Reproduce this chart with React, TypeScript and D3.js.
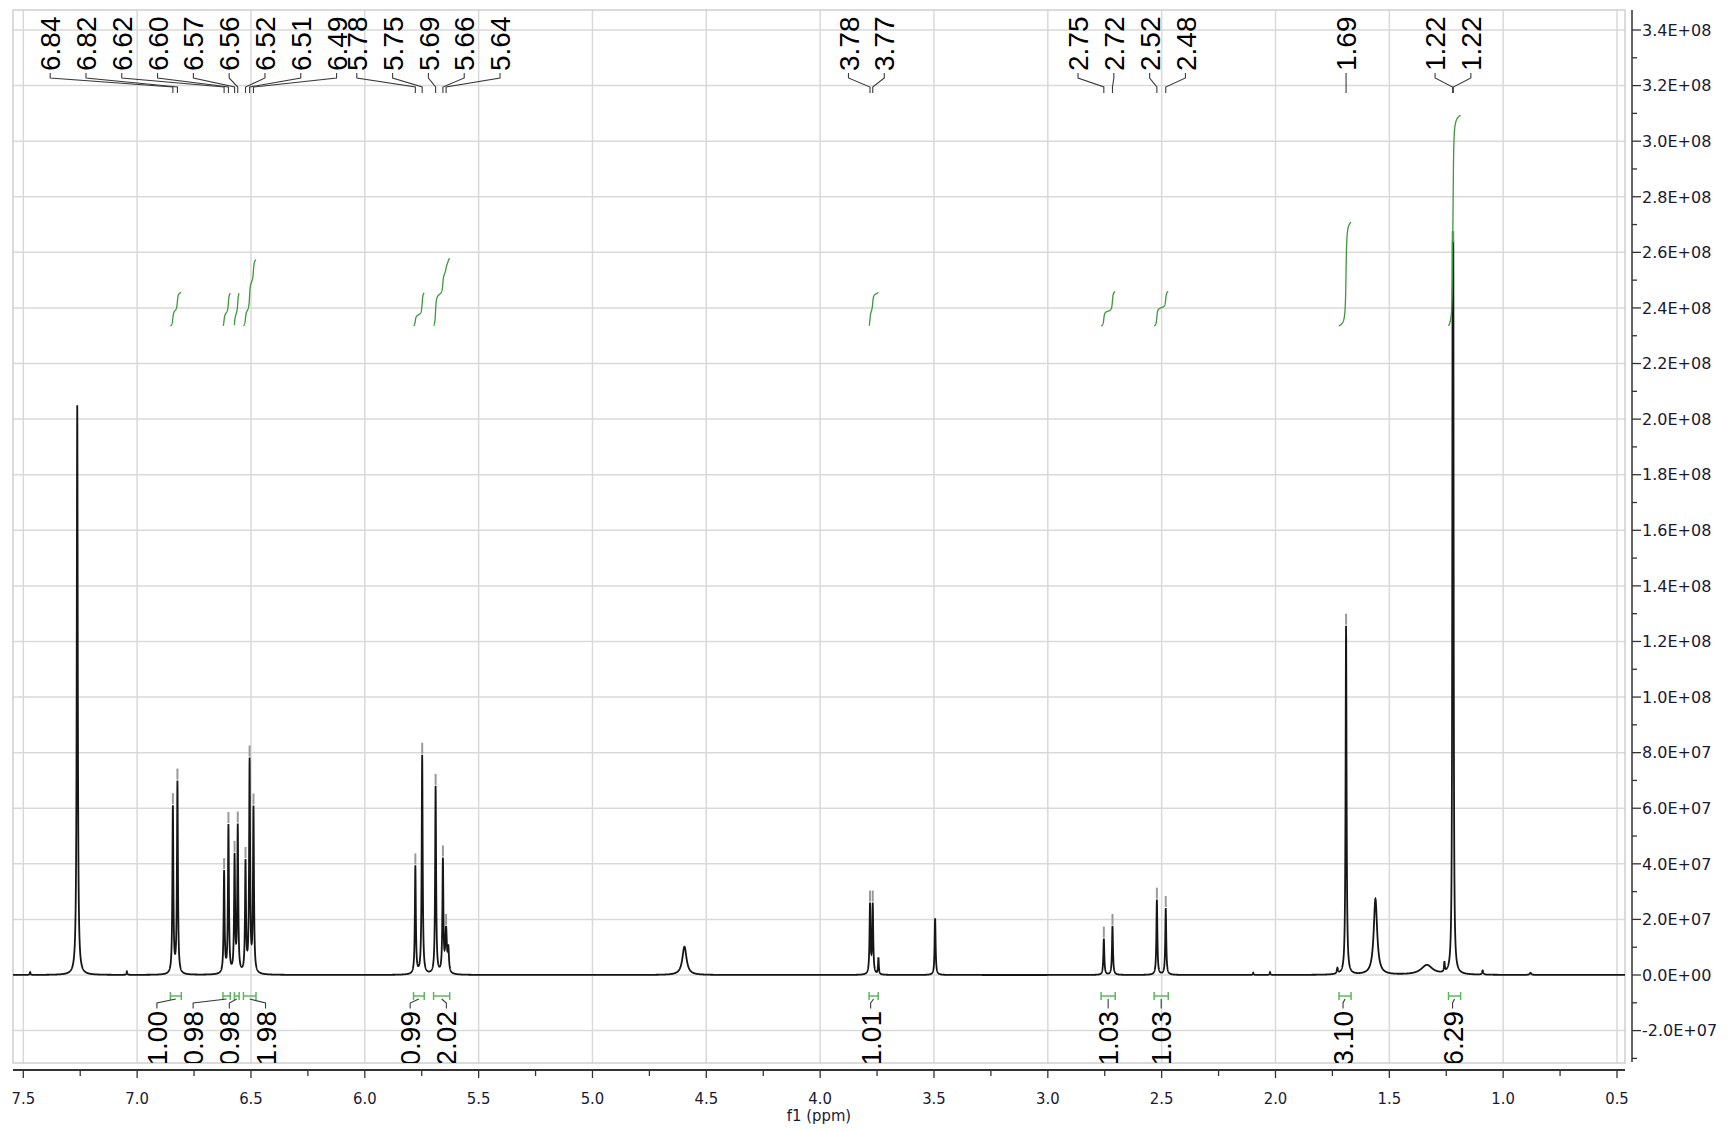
import React, { useMemo } from "react";
import * as d3 from "d3";

// ---- spectrum peaks (ppm, intensity, half width at half height in ppm)
const peakPpm = [
  7.47, 7.263, 7.045,
  6.843, 6.823, 6.618, 6.599, 6.572, 6.558, 6.524, 6.506, 6.489,
  5.778, 5.748, 5.689, 5.657, 5.643, 5.633,
  4.596, 3.781, 3.769, 3.744, 3.495,
  2.754, 2.716, 2.521, 2.482, 2.098, 2.024,
  1.728, 1.69, 1.561, 1.335, 1.258, 1.222, 1.219, 1.09, 0.88,
];
const peakHeight = [
  0.1e7, 20.5e7, 0.12e7,
  6.0e7, 6.9e7, 3.65e7, 5.3e7, 4.15e7, 5.25e7, 3.95e7, 7.6e7, 5.9e7,
  3.88e7, 7.88e7, 6.75e7, 4.05e7, 1.55e7, 0.8e7,
  1.02e7, 2.5e7, 2.5e7, 0.6e7, 2.04e7,
  1.3e7, 1.76e7, 2.7e7, 2.4e7, 0.08e7, 0.1e7,
  0.2e7, 12.55e7, 2.73e7, 0.35e7, 0.35e7, 20.8e7, 20.8e7, 0.15e7, 0.08e7,
];
const peakHwhm = [
  0.002, 0.0026, 0.002,
  0.0025, 0.0025, 0.0025, 0.0025, 0.0025, 0.0025, 0.0025, 0.0025, 0.0025,
  0.0025, 0.0025, 0.0025, 0.0025, 0.004, 0.003,
  0.011, 0.0025, 0.0025, 0.002, 0.0025,
  0.0025, 0.0025, 0.0025, 0.0025, 0.002, 0.002,
  0.003, 0.0025, 0.009, 0.03, 0.002, 0.0018, 0.0018, 0.003, 0.004,
];

// ---- picked peak labels, by multiplet
const topLabelGroups = [
  [6.843, 6.823, 6.618, 6.599, 6.572, 6.558, 6.524, 6.506, 6.489],
  [5.778, 5.748, 5.689, 5.657, 5.643],
  [3.781, 3.769],
  [2.754, 2.716, 2.521, 2.482],
  [1.69],
  [1.222, 1.219],
];
const topGroupShift = [-31.5, -4, -5, -3, 0, 0];

// ---- integrals
const integralFrom = [6.854, 6.623, 6.573, 6.533, 5.786, 5.698, 3.785, 2.766, 2.533, 1.721, 1.24];
const integralTo = [6.806, 6.591, 6.552, 6.478, 5.739, 5.627, 3.745, 2.704, 2.471, 1.668, 1.187];
const integralValue = [1.0, 0.98, 0.98, 1.98, 0.99, 2.02, 1.01, 1.03, 1.03, 3.1, 6.29];
const integralGroups = [[0, 1, 2, 3], [4, 5], [6], [7], [8], [9], [10]];
const bottomGroupShift = [-11, -2, -3, 0, 0, -2, -2];

// ---- axes
const xTicks = d3.range(0, 29).map((i) => 7.5 - i * 0.25);
const yTicks = d3.range(-3, 35).map((i) => i * 1e7);

const W = 1728;
const H = 1130;
const plot = { left: 13, right: 1625, top: 10, bottom: 1063 };

const spec = (p: number) => {
  let s = 0;
  for (let i = 0; i < peakPpm.length; i++) {
    const d = (p - peakPpm[i]) / peakHwhm[i];
    s += peakHeight[i] / (1 + d * d);
  }
  return s;
};

const fmtE = (v: number) => {
  const [m, e] = v.toExponential(1).split("e");
  const sign = e[0] === "-" ? "-" : "+";
  return `${m}E${sign}${String(Math.abs(+e)).padStart(2, "0")}`;
};

const labelFont = "'Liberation Sans', Arial, sans-serif";
const axisFont = "'DejaVu Sans Condensed', 'DejaVu Sans', sans-serif";

export default function App() {
  const x = d3.scaleLinear().domain([7.5, 0.5]).range([23.3, 1617]);
  const y = d3.scaleLinear().domain([0, 3.4e8]).range([975, 30]);
  const yInt = d3.scaleLinear().domain([0, 1]).range([326, 292.5]);

  const specPath = useMemo(() => {
    const pts = d3.range(0, 14161).map((i) => 7.545 - i * 0.0005);
    return d3
      .line<number>()
      .x((p) => x(p))
      .y((p) => y(spec(p)))(pts);
  }, []);

  const integralPaths = useMemo(
    () =>
      integralFrom.map((from, k) => {
        const to = integralTo[k];
        const n = Math.round((from - to) / 0.0004);
        const pts = d3.range(0, n + 1).map((i) => from - (i * (from - to)) / n);
        const vals = pts.map(spec);
        const cum = d3.cumsum(vals);
        const total = cum[cum.length - 1];
        return d3
          .line<number>()
          .x((p) => x(p))
          .y((_, i) => yInt((integralValue[k] * cum[i]) / total))(pts);
      }),
    []
  );

  // top labels
  const topSpacing = 35.8;
  const topLabels: { text: string; lx: number; px: number }[] = [];
  topLabelGroups.forEach((g, gi) => {
    const c = d3.mean(g, (p) => x(p))! + topGroupShift[gi];
    g.forEach((p, i) => {
      topLabels.push({
        text: p.toFixed(2),
        lx: c + (i - (g.length - 1) / 2) * topSpacing,
        px: x(p),
      });
    });
  });

  // bottom integral labels
  const botSpacing = 36.2;
  const botLabels: { text: string; lx: number; cx: number }[] = [];
  integralGroups.forEach((g, gi) => {
    const centers = g.map((k) => (x(integralFrom[k]) + x(integralTo[k])) / 2);
    const c = d3.mean(centers)! + bottomGroupShift[gi];
    g.forEach((k, i) => {
      botLabels.push({
        text: integralValue[k].toFixed(2),
        lx: c + (i - (g.length - 1) / 2) * botSpacing,
        cx: centers[i],
      });
    });
  });

  const green = "#3a9a3a";
  const bracketGreen = "#5cb85c";
  const grid = "#d9d9d9";

  return (
    <svg
      width={W}
      height={H}
      style={{ position: "absolute", left: 0, top: 0, background: "#fff" }}
    >
      <defs>
        <clipPath id="plotClip">
          <rect
            x={plot.left}
            y={plot.top}
            width={plot.right - plot.left}
            height={plot.bottom - plot.top}
          />
        </clipPath>
      </defs>
      <rect x={0} y={0} width={W} height={H} fill="#fff" />

      {/* grid */}
      <g stroke={grid} strokeWidth={1.5}>
        {xTicks
          .filter((_, i) => i % 2 === 0)
          .map((t) => (
            <line key={t} x1={x(t)} x2={x(t)} y1={plot.top} y2={plot.bottom} />
          ))}
        {yTicks
          .filter((t) => Math.round(t / 1e7) % 2 === 0)
          .map((t) => (
            <line key={t} x1={plot.left} x2={plot.right} y1={y(t)} y2={y(t)} />
          ))}
      </g>
      <rect
        x={plot.left}
        y={plot.top}
        width={plot.right - plot.left}
        height={plot.bottom - plot.top}
        fill="none"
        stroke="#cfcfcf"
        strokeWidth={1.5}
      />

      <g clipPath="url(#plotClip)">
        {/* spectrum */}
        <path d={specPath ?? ""} fill="none" stroke="#161616" strokeWidth={1.8} />

        {/* peak markers */}
        <g stroke="#9a9a9a" strokeWidth={2}>
          {topLabelGroups.flat().map((p, i) => {
            const yy = y(spec(p));
            return <line key={i} x1={x(p)} x2={x(p)} y1={yy - 1} y2={yy - 12} />;
          })}
        </g>

        {/* integral curves */}
        <g fill="none" stroke={green} strokeWidth={1.3}>
          {integralPaths.map((d, i) => (
            <path key={i} d={d ?? ""} />
          ))}
        </g>

        {/* integral brackets */}
        <g stroke={bracketGreen} strokeWidth={1.5}>
          {integralFrom.map((f, k) => {
            const x1 = x(f);
            const x2 = x(integralTo[k]);
            return (
              <g key={k}>
                <line x1={x1} x2={x2} y1={996} y2={996} />
                <line x1={x1} x2={x1} y1={992} y2={1000} />
                <line x1={x2} x2={x2} y1={992} y2={1000} />
              </g>
            );
          })}
        </g>

        {/* top peak labels */}
        <g fill="none" stroke="#3a3a3a" strokeWidth={1.1}>
          {topLabels.map((l, i) => (
            <path
              key={i}
              d={`M${l.lx},73 L${l.lx},78 L${l.px},87 L${l.px},93`}
            />
          ))}
        </g>
        {topLabels.map((l, i) => (
          <text
            key={i}
            transform={`translate(${l.lx},71) rotate(-90)`}
            dy="0.36em"
            textAnchor="start"
            fontFamily={labelFont}
            fontSize={28}
            fill="#000"
          >
            {l.text}
          </text>
        ))}

        {/* bottom integral labels */}
        <g fill="none" stroke="#3a3a3a" strokeWidth={1.1}>
          {botLabels.map((l, i) => (
            <path key={i} d={`M${l.cx},999 L${l.lx},1003 L${l.lx},1008.5`} />
          ))}
        </g>
        {botLabels.map((l, i) => (
          <text
            key={i}
            transform={`translate(${l.lx},1011) rotate(-90)`}
            dy="0.36em"
            textAnchor="end"
            fontFamily={labelFont}
            fontSize={28}
            fill="#000"
          >
            {l.text}
          </text>
        ))}
      </g>

      {/* x axis */}
      <line x1={plot.left} x2={plot.right} y1={1070} y2={1070} stroke="#333" strokeWidth={2} />
      {xTicks.map((t, i) => (
        <line
          key={t}
          x1={x(t)}
          x2={x(t)}
          y1={1070}
          y2={1070 + (i % 2 === 0 ? 8 : 6)}
          stroke="#333"
          strokeWidth={1.3}
        />
      ))}
      {xTicks
        .filter((_, i) => i % 2 === 0)
        .map((t) => (
          <text
            key={t}
            x={x(t)}
            y={1104}
            textAnchor="middle"
            fontFamily={axisFont}
            fontSize={16.5}
            fill="#1a1a33"
          >
            {t.toFixed(1)}
          </text>
        ))}
      <text
        x={(plot.left + plot.right) / 2}
        y={1121}
        textAnchor="middle"
        fontFamily={axisFont}
        fontSize={16.5}
        fill="#1a1a33"
      >
        f1 (ppm)
      </text>

      {/* y axis */}
      <line x1={1632} x2={1632} y1={plot.top} y2={1062} stroke="#333" strokeWidth={1.5} />
      {yTicks.map((t) => {
        const major = Math.round(t / 1e7) % 2 === 0;
        return (
          <line
            key={t}
            x1={1632}
            x2={major ? 1641 : 1637}
            y1={y(t)}
            y2={y(t)}
            stroke="#333"
            strokeWidth={1.3}
          />
        );
      })}
      {yTicks
        .filter((t) => Math.round(t / 1e7) % 2 === 0)
        .map((t) => (
          <text
            key={t}
            x={1642}
            y={y(t)}
            dy="0.36em"
            fontFamily="'DejaVu Sans', Verdana, sans-serif"
            fontSize={16}
            fill="#1a1a33"
          >
            {fmtE(t)}
          </text>
        ))}
    </svg>
  );
}
